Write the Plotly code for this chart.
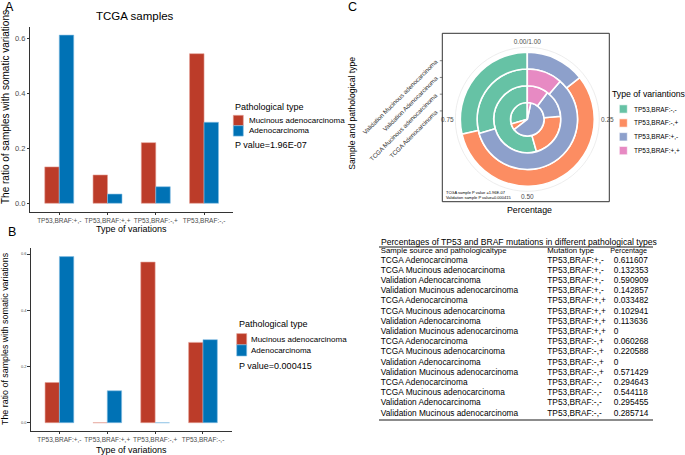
import plotly.graph_objects as go

W, H = 685, 455
def px(x): return x / W
def py(y): return 1 - y / H

FONT = "Liberation Sans, Arial, sans-serif"

# ---------------- data ----------------
variation_types = ["TP53,BRAF:+,-", "TP53,BRAF:+,+", "TP53,BRAF:-,+", "TP53,BRAF:-,-"]
sample_groups = ["TCGA Adenocarcinoma", "TCGA Mucinous adenocarcinoma",
                 "Validation Adenocarcinoma", "Validation Mucinous adenocarcinoma"]

# percentages per mutation type, in the order of sample_groups
pct_plus_minus = [0.611607, 0.132353, 0.590909, 0.142857]
pct_plus_plus = [0.033482, 0.102941, 0.113636, 0.0]
pct_minus_plus = [0.060268, 0.220588, 0.0, 0.571429]
pct_minus_minus = [0.294643, 0.544118, 0.295455, 0.285714]

# bar chart series (order of variation_types)
tcga_mucinous = [0.132353, 0.102941, 0.220588, 0.544118]
tcga_adeno = [0.611607, 0.033482, 0.060268, 0.294643]
valid_mucinous = [0.142857, 0.0, 0.571429, 0.285714]
valid_adeno = [0.590909, 0.113636, 0.0, 0.295455]

table_header = ["Sample source and pathologicaltype", "Mutation type", "Percentage"]

RED = "#BC3C29"
BLUE = "#0072B5"
RED_EDGE = "#E4A096"
BLUE_EDGE = "#86BFE4"
set2 = {"TP53,BRAF:-,-": "#66C2A5", "TP53,BRAF:-,+": "#FC8D62",
        "TP53,BRAF:+,-": "#8DA0CB", "TP53,BRAF:+,+": "#E78AC3"}

fig = go.Figure()

# ---------------- panel A ----------------
fig.add_trace(go.Bar(x=variation_types, y=tcga_mucinous, name="Mucinous adenocarcinoma",
                     marker=dict(color=RED, line=dict(color=RED_EDGE, width=0.6)),
                     xaxis="x", yaxis="y", showlegend=False))
fig.add_trace(go.Bar(x=variation_types, y=tcga_adeno, name="Adenocarcinoma",
                     marker=dict(color=BLUE, line=dict(color=BLUE_EDGE, width=0.6)),
                     xaxis="x", yaxis="y", showlegend=False))
# ---------------- panel B ----------------
fig.add_trace(go.Bar(x=variation_types, y=valid_mucinous, name="Mucinous adenocarcinoma",
                     marker=dict(color=RED, line=dict(color=RED_EDGE, width=0.6)),
                     xaxis="x2", yaxis="y2", showlegend=False))
fig.add_trace(go.Bar(x=variation_types, y=valid_adeno, name="Adenocarcinoma",
                     marker=dict(color=BLUE, line=dict(color=BLUE_EDGE, width=0.6)),
                     xaxis="x2", yaxis="y2", showlegend=False))

# ---------------- panel C (polar stacked rings) ----------------
by_type = {"TP53,BRAF:+,+": pct_plus_plus, "TP53,BRAF:+,-": pct_plus_minus,
           "TP53,BRAF:-,+": pct_minus_plus, "TP53,BRAF:-,-": pct_minus_minus}
stack_order = ["TP53,BRAF:+,+", "TP53,BRAF:+,-", "TP53,BRAF:-,+", "TP53,BRAF:-,-"]
legend_order = ["TP53,BRAF:-,-", "TP53,BRAF:-,+", "TP53,BRAF:+,-", "TP53,BRAF:+,+"]
starts = {}
cum = [0.0] * len(sample_groups)
for t in stack_order:
    starts[t] = list(cum)
    cum = [c + v for c, v in zip(cum, by_type[t])]
for t in legend_order:
    vals = by_type[t]
    fig.add_trace(go.Barpolar(
        theta=[(s + v / 2) * 360 for s, v in zip(starts[t], vals)],
        width=[v * 360 for v in vals],
        base=list(range(len(sample_groups))),
        r=[1] * len(sample_groups),
        name=t, marker=dict(color=set2[t], line=dict(color="white", width=1.6)),
        subplot="polar", showlegend=False))

# ---------------- table (text drawn on a hidden table axis) ----------------
col_sample, col_type, col_pct = [], [], []
for t in variation_types:
    for g, v in zip(sample_groups, by_type[t]):
        col_sample.append(g)
        col_type.append(t)
        col_pct.append(f"{v:.6f}".rstrip("0").rstrip("."))
n_rows = len(col_sample)
row_pos = [-0.9] + list(range(n_rows))
col_x = [1.5, 168.0, 234.5]        # column starts on the table axis (px units)
head_x = [1.5, 168.0, 231.0]
for ci, (col, hx, hsize) in enumerate(zip([col_sample, col_type, col_pct], head_x, [7.8, 7.8, 7.2])):
    fig.add_trace(go.Scatter(
        x=[hx] + [col_x[ci]] * n_rows, y=row_pos, mode="text",
        text=[table_header[ci]] + col, textposition="middle right",
        textfont=dict(family=FONT, size=[hsize] + [8.3] * n_rows, color="black"),
        xaxis="x3", yaxis="y3", showlegend=False, cliponaxis=False, hoverinfo="skip"))

axis_common = dict(showline=True, linecolor="#333333", linewidth=0.8, ticks="outside",
                   ticklen=2.5, tickcolor="#333333", tickwidth=0.8, showgrid=False,
                   zeroline=False)

POLAR_CY, POLAR_R, R_MAX = 119.3, 72.0, 4.3

fig.update_layout(
    width=W, height=H, margin=dict(l=0, r=0, t=0, b=0, pad=0),
    paper_bgcolor="white", plot_bgcolor="white",
    font=dict(family=FONT, color="black"),
    barmode="group", bargap=0.4, bargroupgap=0,
    xaxis=dict(domain=[px(30.3), px(233)], range=[-0.6, 3.6], anchor="y", tickangle=0,
               tickfont=dict(size=6.5, color="#4D4D4D"), **axis_common),
    yaxis=dict(domain=[py(211.7), py(26.7)], range=[-0.0306, 0.6422], anchor="x",
               tickvals=[0, 0.2, 0.4, 0.6], tickformat=".1f",
               tickfont=dict(size=7.5, color="#4D4D4D"), **axis_common),
    xaxis2=dict(domain=[px(30.7), px(231.7)], range=[-0.6, 3.6], anchor="y2", tickangle=0,
                tickfont=dict(size=6.5, color="#4D4D4D"), **axis_common),
    yaxis2=dict(domain=[py(431), py(248.3)], range=[-0.02955, 0.62045], anchor="x2",
                tickvals=[0, 0.2, 0.4, 0.6], tickformat=".1f",
                tickfont=dict(size=4, color="#4D4D4D"), **axis_common),
    xaxis3=dict(domain=[px(379.3), px(653.3)], range=[0, 274], anchor="y3",
                showline=True, mirror=True, linecolor="#8C8C8C", linewidth=1.5,
                showticklabels=False, ticks="", showgrid=False, zeroline=False),
    yaxis3=dict(domain=[py(418.5), py(248.3)], range=[15.48, -1.195], anchor="x3",
                visible=False, showgrid=False, zeroline=False),
    polar=dict(domain=dict(x=[px(527.3 - POLAR_R), px(527.3 + POLAR_R)],
                           y=[py(POLAR_CY + POLAR_R), py(POLAR_CY - POLAR_R)]),
               bgcolor="white", hole=0,
               radialaxis=dict(visible=False, range=[0, R_MAX]),
               angularaxis=dict(rotation=90, direction="clockwise", thetaunit="degrees",
                                tickvals=[0, 90, 180, 270],
                                ticktext=["0.00/1.00", "0.25", "0.50", "0.75"],
                                showgrid=False, showline=True, linecolor="#E8E8E8",
                                linewidth=0.8, ticks="",
                                tickfont=dict(size=6.5, color="#4D4D4D"))),
)

ann = []
def text(x, y, s, size, **kw):
    d = dict(x=px(x), y=py(y), xref="paper", yref="paper", text=s, showarrow=False,
             font=dict(size=size, color=kw.pop("color", "black")),
             xanchor=kw.pop("xanchor", "center"), yanchor=kw.pop("yanchor", "middle"))
    d.update(kw)
    ann.append(d)

shapes = [
    dict(type="rect", xref="paper", yref="paper", x0=px(442.3), x1=px(609.3),
         y0=py(201.7), y1=py(33.3), line=dict(color="#333333", width=1)),
]

def legend_block(x, title_y, title, title_size, items, colors, edges, sw, sh, row_y,
                 text_x, text_size):
    text(x, title_y, title, title_size, xanchor="left")
    for name, c, e, yy in zip(items, colors, edges, row_y):
        shapes.append(dict(type="rect", xref="paper", yref="paper",
                           x0=px(x + sw[0]), x1=px(x + sw[1]),
                           y0=py(yy + sh / 2), y1=py(yy - sh / 2),
                           fillcolor=c, line=dict(color=e, width=0.6)))
        text(text_x, yy, name, text_size, xanchor="left")

path_types = ["Mucinous adenocarcinoma", "Adenocarcinoma"]
legend_block(233, 106.7, "Pathological type", 9, path_types, [RED, BLUE],
             [RED_EDGE, BLUE_EDGE], (0.3, 10.3), 10.4, [120.5, 130.9], 246.5, 8)
legend_block(236.7, 324, "Pathological type", 9, path_types, [RED, BLUE],
             [RED_EDGE, BLUE_EDGE], (0, 10), 11.2, [339.2, 350.4], 248.8, 8)
legend_block(609.5, 94.3, "Type of variantions", 8.7, legend_order,
             [set2[t] for t in legend_order], ["white"] * 4, (9.8, 17.8), 8.3,
             [109, 123, 136.8, 150.6], 632, 6.5)

text(9, 7, "A", 12.5)
text(12, 232, "B", 12.5)
text(352, 7, "C", 12.5)
text(135, 16, "TCGA samples", 11.5)
text(5, 107, "The ratio of samples with somatic variations", 10, textangle=-90)
text(131.5, 228.5, "Type of variations", 9)
text(233, 145.3, "P value=1.96E-07", 9, xanchor="left")
text(5, 339, "The ratio of samples with somatic variations", 8.9, textangle=-90)
text(131.5, 449.5, "Type of variations", 9)
text(236.7, 366, "P value=0.000415", 9, xanchor="left")
text(351.7, 113, "Sample and pathological type", 8.6, textangle=-90)
text(529, 210, "Percentage", 8.8)
text(444, 192.7, "TCGA sample P value =1.96E-07", 4, xanchor="left")
text(444, 197.2, "Validation sample P value=0.000415", 4, xanchor="left")
text(519, 241.6, "Percentages of TP53 and BRAF mutations in different pathological types", 8.6)
# radial (sample group) labels for panel C, placed at each ring's radius
ring_px = POLAR_R / R_MAX
for i, g in enumerate(sample_groups):
    yy = POLAR_CY - (i + 0.5) * ring_px
    text(442, yy - 5.5, g, 6.2, textangle=-45, xanchor="right", yanchor="top",
         color="#333333")
    shapes.append(dict(type="line", xref="paper", yref="paper", x0=px(439.8), x1=px(442.3),
                       y0=py(yy), y1=py(yy), line=dict(color="#333333", width=0.6)))

fig.update_layout(annotations=ann, shapes=shapes)

fig.write_html("out.html", config={"displayModeBar": False},
               post_script="document.body.style.margin='0px';"
                           "document.documentElement.style.overflow='hidden';")
